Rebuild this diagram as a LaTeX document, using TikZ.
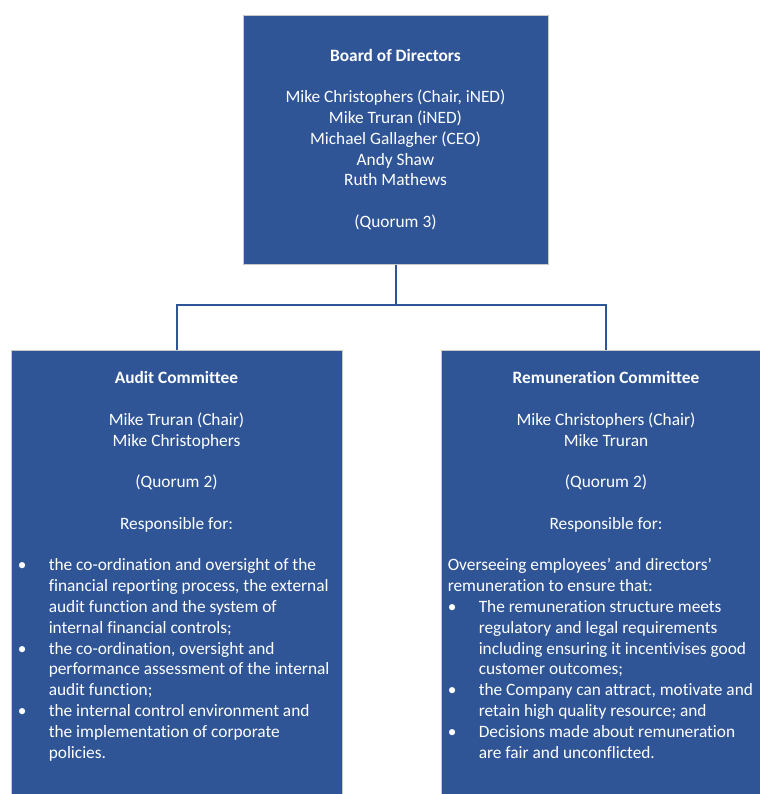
\documentclass[tikz,border=0pt]{standalone}
\usepackage{fontspec}
\setmainfont{Carlito}[Ligatures=NoCommon]
\usetikzlibrary{positioning}
\definecolor{boxblue}{HTML}{2F5597}
\definecolor{boxedge}{HTML}{C8C8C8}
\newcommand{\bitem}{\makebox[23.25pt][l]{\textbullet}}
\newcommand{\bcont}{\hspace*{23.25pt}}

\begin{document}
\begin{tikzpicture}[x=0.75pt,y=-0.75pt,
    box/.style={draw=boxedge,line width=0.75pt,fill=boxblue,inner sep=0pt},
    boxtext/.style={text=white,inner sep=0pt,font=\fontsize{13pt}{15.6pt}\selectfont},
    link/.style={draw=boxblue,line width=1.5pt}]
    \useasboundingbox (0,0) rectangle (760,794);
    \clip (0,0) rectangle (760,794);
    % boxes
    \node[box,boxtext,align=center,minimum width=228.75pt,minimum height=186.75pt] (board) at (395.5,139.5)
        {\textbf{Board of Directors}\\[15.6pt]
         Mike Christophers (Chair, iNED)\\
         Mike Truran (iNED)\\
         Michael Gallagher (CEO)\\
         Andy Shaw\\
         Ruth Mathews\\[15.6pt]
         (Quorum 3)};
    \node[box,minimum width=248.25pt,minimum height=345pt] (audit) at (176.5,580) {};
    \node[box,minimum width=247.5pt,minimum height=345pt] (remun) at (606,580) {};
    % committee texts
    \node[boxtext,align=center,below=16.5pt of audit.north] (audithead)
        {\textbf{Audit Committee}\\[15.6pt]
         Mike Truran (Chair)\\
         Mike Christophers\\[15.6pt]
         (Quorum 2)\\[15.6pt]
         Responsible for:};
    \node[boxtext,align=center,below=16.5pt of remun.north] (remunhead)
        {\textbf{Remuneration Committee}\\[15.6pt]
         Mike Christophers (Chair)\\
         Mike Truran\\[15.6pt]
         (Quorum 2)\\[15.6pt]
         Responsible for:};
    \node[boxtext,align=left,anchor=north west] (auditlist) at ([xshift=5.25pt,yshift=-156.75pt]audit.north west)
        {\bitem the co-ordination and oversight of the\\
         \bcont financial reporting process, the external\\
         \bcont audit function and the system of\\
         \bcont internal financial controls;\\
         \bitem the co-ordination, oversight and\\
         \bcont performance assessment of the internal\\
         \bcont audit function;\\
         \bitem the internal control environment and\\
         \bcont the implementation of corporate\\
         \bcont policies.};
    \node[boxtext,align=left,anchor=north west] (remunlist) at ([xshift=5.25pt,yshift=-156.75pt]remun.north west)
        {Overseeing employees’ and directors’\\
         remuneration to ensure that:\\
         \bitem The remuneration structure meets\\
         \bcont regulatory and legal requirements\\
         \bcont including ensuring it incentivises good\\
         \bcont customer outcomes;\\
         \bitem the Company can attract, motivate and\\
         \bcont retain high quality resource; and\\
         \bitem Decisions made about remuneration\\
         \bcont are fair and unconflicted.};
    % connectors
    \coordinate (split) at (395.5,305);
    \draw[link] (board.south) -- (split);
    \draw[link] (split) -| (audit.north);
    \draw[link] (split) -| (remun.north);
\end{tikzpicture}
\end{document}
